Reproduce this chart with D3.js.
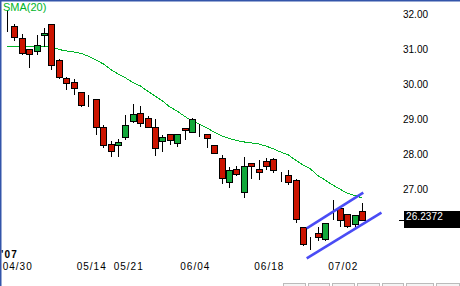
<!DOCTYPE html>
<html>
<head>
<meta charset="utf-8">
<script src="https://cdn.jsdelivr.net/npm/d3@7"></script>
<style>
  html, body { margin: 0; padding: 0; background: #fff; }
  svg { display: block; font-family: "Liberation Sans", Arial, sans-serif; }
</style>
</head>
<body>
<svg width="460" height="286"></svg>
<script>
const dates = ["04/30","05/01","05/02","05/03","05/04","05/07","05/08","05/09","05/10","05/11",
  "05/14","05/15","05/16","05/17","05/18","05/21","05/22","05/23","05/24","05/25",
  "05/29","05/30","05/31","06/01","06/04","06/05","06/06","06/07","06/08","06/11",
  "06/12","06/13","06/14","06/15","06/18","06/19","06/20","06/21","06/22","06/25",
  "06/26","06/27","06/28","06/29","07/02","07/03","07/05","07/06","07/09"];

const opens  = [31.80,31.77,31.43,31.11,31.06,31.51,31.83,30.80,30.29,30.17,
  29.89,29.63,29.69,28.89,28.40,28.37,28.60,29.06,29.29,29.14,
  28.89,28.49,28.69,28.43,28.86,28.74,28.80,28.69,28.37,28.00,
  27.31,27.69,27.03,27.86,27.69,27.91,27.97,27.60,27.51,27.37,
  26.03,25.66,25.86,25.69,26.46,26.57,26.40,26.11,26.49];
const highs  = [32.23,31.83,31.54,31.11,31.51,31.71,31.83,30.83,30.31,30.26,
  29.89,29.80,29.69,28.94,28.49,28.54,29.23,29.54,29.49,29.20,
  29.11,28.66,28.69,28.69,28.86,29.14,28.97,28.69,28.37,28.09,
  27.74,27.77,28.03,27.86,27.94,28.00,28.00,27.60,27.66,27.40,
  26.03,25.74,26.03,26.14,26.80,26.57,26.40,26.37,26.71];
const lows   = [31.60,31.34,30.94,30.57,30.94,31.17,30.51,30.26,29.94,29.80,
  29.46,29.46,28.66,28.29,28.03,28.03,28.51,29.00,28.89,28.86,
  28.06,28.17,28.37,28.31,28.51,28.71,28.60,28.29,28.11,27.26,
  27.14,27.49,26.86,27.40,27.37,27.66,27.57,27.31,27.23,26.14,
  25.49,25.37,25.63,25.63,26.23,26.03,26.00,26.03,26.2372];
const closes = [31.80,31.46,31.00,30.97,31.23,31.57,30.66,30.31,30.14,30.00,
  29.51,29.63,28.89,28.37,28.20,28.46,28.94,29.26,29.00,28.89,
  28.29,28.60,28.51,28.69,28.80,29.11,28.80,28.57,28.14,27.43,
  27.66,27.54,27.77,27.77,27.60,27.77,27.66,27.60,27.31,26.26,
  25.54,25.66,25.74,26.14,26.46,26.23,26.06,26.37,26.2372];

const sma20 = [31.20,31.20,31.20,31.20,31.20,31.20,31.19,31.10,31.06,31.03,
  30.99,30.91,30.80,30.69,30.53,30.40,30.29,30.16,30.06,29.91,
  29.77,29.63,29.46,29.34,29.19,29.06,28.97,28.86,28.74,28.63,
  28.56,28.50,28.46,28.43,28.40,28.34,28.26,28.17,28.09,27.94,
  27.80,27.69,27.50,27.37,27.23,27.11,26.99,26.93,26.86];

// channel lines: [index, price]
const channelUpper = [[40.5, 25.99], [48.15, 27.01]];
const channelLower = [[40.5, 25.13], [50.6, 26.44]];

const priceTicks = [27, 28, 29, 30, 31, 32];
const dateLabels = ["04/30","05/14","05/21","06/04","06/18","07/02"];
const lastPrice = 26.2372;

const svg = d3.select("svg");

const x = d3.scaleLinear().domain([0, dates.length - 1]).range([7, 362.2]);
const y = d3.scaleLinear().domain([27, 32]).range([193, 18]);

// SMA line
svg.append("path")
  .datum(sma20)
  .attr("fill", "none")
  .attr("stroke", "#00b428")
  .attr("stroke-width", 1)
  .attr("shape-rendering", "crispEdges")
  .attr("d", d3.line().x((d, i) => x(i)).y(d => y(d)));

// candles
const candles = svg.append("g").attr("shape-rendering", "crispEdges");
dates.forEach((d, i) => {
  const cx = Math.round(x(i));
  const o = opens[i], c = closes[i];
  candles.append("line")
    .attr("x1", cx + 0.5).attr("x2", cx + 0.5)
    .attr("y1", Math.round(y(highs[i]))).attr("y2", Math.round(y(lows[i])))
    .attr("stroke", "#000");
  const top = Math.round(y(Math.max(o, c)));
  const bot = Math.round(y(Math.min(o, c)));
  candles.append("rect")
    .attr("x", cx - 2.5)
    .attr("y", top + 0.5)
    .attr("width", 6)
    .attr("height", Math.max(0, bot - top))
    .attr("fill", c > o ? "#12a83a" : (c < o ? "#cc1400" : "#000"))
    .attr("stroke", "#000")
    .attr("stroke-width", 1);
});

// channel
[channelUpper, channelLower].forEach(pts => {
  svg.append("line")
    .attr("x1", x(pts[0][0])).attr("y1", y(pts[0][1]))
    .attr("x2", x(pts[1][0])).attr("y2", y(pts[1][1]))
    .attr("stroke", "#4a4cf5")
    .attr("stroke-width", 2.6);
});

// price labels
svg.selectAll(".ptick")
  .data(priceTicks)
  .enter().append("text")
  .attr("class", "ptick")
  .attr("x", 403)
  .attr("y", d => y(d))
  .attr("font-size", 10)
  .attr("fill", "#000")
  .text(d => d3.format(".2f")(d));

// last price marker
const ly = Math.round(y(lastPrice));
svg.append("line")
  .attr("x1", 399).attr("x2", 404)
  .attr("y1", ly + 0.5).attr("y2", ly + 0.5)
  .attr("stroke", "#000");
svg.append("rect")
  .attr("x", 404).attr("y", ly - 9)
  .attr("width", 56).attr("height", 17)
  .attr("fill", "#000");
svg.append("text")
  .attr("x", 406).attr("y", ly)
  .attr("font-size", 10)
  .attr("fill", "#fff")
  .attr("letter-spacing", 0.1)
  .text(d3.format(".4f")(lastPrice));

// date labels
svg.append("text")
  .attr("x", 1).attr("y", 257.5)
  .attr("font-size", 10)
  .attr("font-weight", "bold")
  .attr("letter-spacing", 1.2)
  .text("'07");

svg.selectAll(".dtick")
  .data(dateLabels)
  .enter().append("text")
  .attr("class", "dtick")
  .attr("x", d => x(dates.indexOf(d)) - 4.3)
  .attr("y", 270)
  .attr("font-size", 10)
  .attr("letter-spacing", 1)
  .text(d => d);

// SMA legend
svg.append("text")
  .attr("x", 3).attr("y", 11)
  .attr("font-size", 11)
  .attr("fill", "#00b428")
  .text("SMA(20)");

// bottom buttons strip (cut off)
const btns = [[283, 306], [308, 330], [332, 355], [357, 380], [382, 404], [406, 434], [436, 460]];
svg.selectAll(".btn")
  .data(btns)
  .enter().append("rect")
  .attr("x", d => d[0] + 0.5).attr("y", 283.5)
  .attr("width", d => d[1] - d[0] - 1).attr("height", 6)
  .attr("fill", "#f4f4f4")
  .attr("stroke", "#bbb");

// frame
svg.append("line").attr("x1", 0).attr("x2", 460).attr("y1", 0.75).attr("y2", 0.75)
  .attr("stroke", "#3355aa").attr("stroke-width", 1.5);
svg.append("line").attr("x1", 0.75).attr("x2", 0.75).attr("y1", 0).attr("y2", 286)
  .attr("stroke", "#3355aa").attr("stroke-width", 1.5);
</script>
</body>
</html>
